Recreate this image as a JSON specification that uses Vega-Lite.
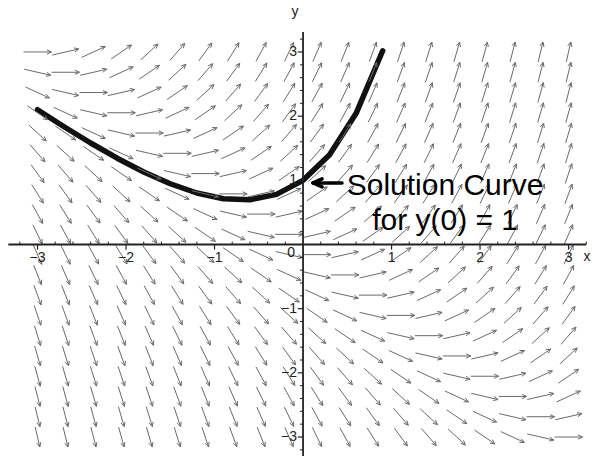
{
  "$schema": "https://vega.github.io/schema/vega-lite/v6.json",
  "width": 595,
  "height": 456,
  "autosize": {"type": "none"},
  "padding": 0,
  "background": "white",
  "config": {"view": {"stroke": null}, "axis": {"disable": true}},
  "datasets": {
    "field": [
      {"x":-3,"y":-3,"s":-6},{"x":-3,"y":-2.684,"s":-5.684},{"x":-3,"y":-2.368,"s":-5.368},{"x":-3,"y":-2.053,"s":-5.053},{"x":-3,"y":-1.737,"s":-4.737},{"x":-3,"y":-1.421,"s":-4.421},{"x":-3,"y":-1.105,"s":-4.105},{"x":-3,"y":-0.789,"s":-3.789},{"x":-3,"y":-0.474,"s":-3.474},{"x":-3,"y":-0.158,"s":-3.158},{"x":-3,"y":0.158,"s":-2.842},{"x":-3,"y":0.474,"s":-2.526},{"x":-3,"y":0.789,"s":-2.211},{"x":-3,"y":1.105,"s":-1.895},{"x":-3,"y":1.421,"s":-1.579},{"x":-3,"y":1.737,"s":-1.263},{"x":-3,"y":2.053,"s":-0.947},{"x":-3,"y":2.368,"s":-0.632},{"x":-3,"y":2.684,"s":-0.316},{"x":-3,"y":3,"s":0},
      {"x":-2.684,"y":-3,"s":-5.684},{"x":-2.684,"y":-2.684,"s":-5.368},{"x":-2.684,"y":-2.368,"s":-5.053},{"x":-2.684,"y":-2.053,"s":-4.737},{"x":-2.684,"y":-1.737,"s":-4.421},{"x":-2.684,"y":-1.421,"s":-4.105},{"x":-2.684,"y":-1.105,"s":-3.789},{"x":-2.684,"y":-0.789,"s":-3.474},{"x":-2.684,"y":-0.474,"s":-3.158},{"x":-2.684,"y":-0.158,"s":-2.842},{"x":-2.684,"y":0.158,"s":-2.526},{"x":-2.684,"y":0.474,"s":-2.211},{"x":-2.684,"y":0.789,"s":-1.895},{"x":-2.684,"y":1.105,"s":-1.579},{"x":-2.684,"y":1.421,"s":-1.263},{"x":-2.684,"y":1.737,"s":-0.947},{"x":-2.684,"y":2.053,"s":-0.632},{"x":-2.684,"y":2.368,"s":-0.316},{"x":-2.684,"y":2.684,"s":0},{"x":-2.684,"y":3,"s":0.316},
      {"x":-2.368,"y":-3,"s":-5.368},{"x":-2.368,"y":-2.684,"s":-5.053},{"x":-2.368,"y":-2.368,"s":-4.737},{"x":-2.368,"y":-2.053,"s":-4.421},{"x":-2.368,"y":-1.737,"s":-4.105},{"x":-2.368,"y":-1.421,"s":-3.789},{"x":-2.368,"y":-1.105,"s":-3.474},{"x":-2.368,"y":-0.789,"s":-3.158},{"x":-2.368,"y":-0.474,"s":-2.842},{"x":-2.368,"y":-0.158,"s":-2.526},{"x":-2.368,"y":0.158,"s":-2.211},{"x":-2.368,"y":0.474,"s":-1.895},{"x":-2.368,"y":0.789,"s":-1.579},{"x":-2.368,"y":1.105,"s":-1.263},{"x":-2.368,"y":1.421,"s":-0.947},{"x":-2.368,"y":1.737,"s":-0.632},{"x":-2.368,"y":2.053,"s":-0.316},{"x":-2.368,"y":2.368,"s":0},{"x":-2.368,"y":2.684,"s":0.316},{"x":-2.368,"y":3,"s":0.632},
      {"x":-2.053,"y":-3,"s":-5.053},{"x":-2.053,"y":-2.684,"s":-4.737},{"x":-2.053,"y":-2.368,"s":-4.421},{"x":-2.053,"y":-2.053,"s":-4.105},{"x":-2.053,"y":-1.737,"s":-3.789},{"x":-2.053,"y":-1.421,"s":-3.474},{"x":-2.053,"y":-1.105,"s":-3.158},{"x":-2.053,"y":-0.789,"s":-2.842},{"x":-2.053,"y":-0.474,"s":-2.526},{"x":-2.053,"y":-0.158,"s":-2.211},{"x":-2.053,"y":0.158,"s":-1.895},{"x":-2.053,"y":0.474,"s":-1.579},{"x":-2.053,"y":0.789,"s":-1.263},{"x":-2.053,"y":1.105,"s":-0.947},{"x":-2.053,"y":1.421,"s":-0.632},{"x":-2.053,"y":1.737,"s":-0.316},{"x":-2.053,"y":2.053,"s":0},{"x":-2.053,"y":2.368,"s":0.316},{"x":-2.053,"y":2.684,"s":0.632},{"x":-2.053,"y":3,"s":0.947},
      {"x":-1.737,"y":-3,"s":-4.737},{"x":-1.737,"y":-2.684,"s":-4.421},{"x":-1.737,"y":-2.368,"s":-4.105},{"x":-1.737,"y":-2.053,"s":-3.789},{"x":-1.737,"y":-1.737,"s":-3.474},{"x":-1.737,"y":-1.421,"s":-3.158},{"x":-1.737,"y":-1.105,"s":-2.842},{"x":-1.737,"y":-0.789,"s":-2.526},{"x":-1.737,"y":-0.474,"s":-2.211},{"x":-1.737,"y":-0.158,"s":-1.895},{"x":-1.737,"y":0.158,"s":-1.579},{"x":-1.737,"y":0.474,"s":-1.263},{"x":-1.737,"y":0.789,"s":-0.947},{"x":-1.737,"y":1.105,"s":-0.632},{"x":-1.737,"y":1.421,"s":-0.316},{"x":-1.737,"y":1.737,"s":0},{"x":-1.737,"y":2.053,"s":0.316},{"x":-1.737,"y":2.368,"s":0.632},{"x":-1.737,"y":2.684,"s":0.947},{"x":-1.737,"y":3,"s":1.263},
      {"x":-1.421,"y":-3,"s":-4.421},{"x":-1.421,"y":-2.684,"s":-4.105},{"x":-1.421,"y":-2.368,"s":-3.789},{"x":-1.421,"y":-2.053,"s":-3.474},{"x":-1.421,"y":-1.737,"s":-3.158},{"x":-1.421,"y":-1.421,"s":-2.842},{"x":-1.421,"y":-1.105,"s":-2.526},{"x":-1.421,"y":-0.789,"s":-2.211},{"x":-1.421,"y":-0.474,"s":-1.895},{"x":-1.421,"y":-0.158,"s":-1.579},{"x":-1.421,"y":0.158,"s":-1.263},{"x":-1.421,"y":0.474,"s":-0.947},{"x":-1.421,"y":0.789,"s":-0.632},{"x":-1.421,"y":1.105,"s":-0.316},{"x":-1.421,"y":1.421,"s":0},{"x":-1.421,"y":1.737,"s":0.316},{"x":-1.421,"y":2.053,"s":0.632},{"x":-1.421,"y":2.368,"s":0.947},{"x":-1.421,"y":2.684,"s":1.263},{"x":-1.421,"y":3,"s":1.579},
      {"x":-1.105,"y":-3,"s":-4.105},{"x":-1.105,"y":-2.684,"s":-3.789},{"x":-1.105,"y":-2.368,"s":-3.474},{"x":-1.105,"y":-2.053,"s":-3.158},{"x":-1.105,"y":-1.737,"s":-2.842},{"x":-1.105,"y":-1.421,"s":-2.526},{"x":-1.105,"y":-1.105,"s":-2.211},{"x":-1.105,"y":-0.789,"s":-1.895},{"x":-1.105,"y":-0.474,"s":-1.579},{"x":-1.105,"y":-0.158,"s":-1.263},{"x":-1.105,"y":0.158,"s":-0.947},{"x":-1.105,"y":0.474,"s":-0.632},{"x":-1.105,"y":0.789,"s":-0.316},{"x":-1.105,"y":1.105,"s":0},{"x":-1.105,"y":1.421,"s":0.316},{"x":-1.105,"y":1.737,"s":0.632},{"x":-1.105,"y":2.053,"s":0.947},{"x":-1.105,"y":2.368,"s":1.263},{"x":-1.105,"y":2.684,"s":1.579},{"x":-1.105,"y":3,"s":1.895},
      {"x":-0.789,"y":-3,"s":-3.789},{"x":-0.789,"y":-2.684,"s":-3.474},{"x":-0.789,"y":-2.368,"s":-3.158},{"x":-0.789,"y":-2.053,"s":-2.842},{"x":-0.789,"y":-1.737,"s":-2.526},{"x":-0.789,"y":-1.421,"s":-2.211},{"x":-0.789,"y":-1.105,"s":-1.895},{"x":-0.789,"y":-0.789,"s":-1.579},{"x":-0.789,"y":-0.474,"s":-1.263},{"x":-0.789,"y":-0.158,"s":-0.947},{"x":-0.789,"y":0.158,"s":-0.632},{"x":-0.789,"y":0.474,"s":-0.316},{"x":-0.789,"y":0.789,"s":0},{"x":-0.789,"y":1.105,"s":0.316},{"x":-0.789,"y":1.421,"s":0.632},{"x":-0.789,"y":1.737,"s":0.947},{"x":-0.789,"y":2.053,"s":1.263},{"x":-0.789,"y":2.368,"s":1.579},{"x":-0.789,"y":2.684,"s":1.895},{"x":-0.789,"y":3,"s":2.211},
      {"x":-0.474,"y":-3,"s":-3.474},{"x":-0.474,"y":-2.684,"s":-3.158},{"x":-0.474,"y":-2.368,"s":-2.842},{"x":-0.474,"y":-2.053,"s":-2.526},{"x":-0.474,"y":-1.737,"s":-2.211},{"x":-0.474,"y":-1.421,"s":-1.895},{"x":-0.474,"y":-1.105,"s":-1.579},{"x":-0.474,"y":-0.789,"s":-1.263},{"x":-0.474,"y":-0.474,"s":-0.947},{"x":-0.474,"y":-0.158,"s":-0.632},{"x":-0.474,"y":0.158,"s":-0.316},{"x":-0.474,"y":0.474,"s":0},{"x":-0.474,"y":0.789,"s":0.316},{"x":-0.474,"y":1.105,"s":0.632},{"x":-0.474,"y":1.421,"s":0.947},{"x":-0.474,"y":1.737,"s":1.263},{"x":-0.474,"y":2.053,"s":1.579},{"x":-0.474,"y":2.368,"s":1.895},{"x":-0.474,"y":2.684,"s":2.211},{"x":-0.474,"y":3,"s":2.526},
      {"x":-0.158,"y":-3,"s":-3.158},{"x":-0.158,"y":-2.684,"s":-2.842},{"x":-0.158,"y":-2.368,"s":-2.526},{"x":-0.158,"y":-2.053,"s":-2.211},{"x":-0.158,"y":-1.737,"s":-1.895},{"x":-0.158,"y":-1.421,"s":-1.579},{"x":-0.158,"y":-1.105,"s":-1.263},{"x":-0.158,"y":-0.789,"s":-0.947},{"x":-0.158,"y":-0.474,"s":-0.632},{"x":-0.158,"y":-0.158,"s":-0.316},{"x":-0.158,"y":0.158,"s":0},{"x":-0.158,"y":0.474,"s":0.316},{"x":-0.158,"y":0.789,"s":0.632},{"x":-0.158,"y":1.105,"s":0.947},{"x":-0.158,"y":1.421,"s":1.263},{"x":-0.158,"y":1.737,"s":1.579},{"x":-0.158,"y":2.053,"s":1.895},{"x":-0.158,"y":2.368,"s":2.211},{"x":-0.158,"y":2.684,"s":2.526},{"x":-0.158,"y":3,"s":2.842},
      {"x":0.158,"y":-3,"s":-2.842},{"x":0.158,"y":-2.684,"s":-2.526},{"x":0.158,"y":-2.368,"s":-2.211},{"x":0.158,"y":-2.053,"s":-1.895},{"x":0.158,"y":-1.737,"s":-1.579},{"x":0.158,"y":-1.421,"s":-1.263},{"x":0.158,"y":-1.105,"s":-0.947},{"x":0.158,"y":-0.789,"s":-0.632},{"x":0.158,"y":-0.474,"s":-0.316},{"x":0.158,"y":-0.158,"s":0},{"x":0.158,"y":0.158,"s":0.316},{"x":0.158,"y":0.474,"s":0.632},{"x":0.158,"y":0.789,"s":0.947},{"x":0.158,"y":1.105,"s":1.263},{"x":0.158,"y":1.421,"s":1.579},{"x":0.158,"y":1.737,"s":1.895},{"x":0.158,"y":2.053,"s":2.211},{"x":0.158,"y":2.368,"s":2.526},{"x":0.158,"y":2.684,"s":2.842},{"x":0.158,"y":3,"s":3.158},
      {"x":0.474,"y":-3,"s":-2.526},{"x":0.474,"y":-2.684,"s":-2.211},{"x":0.474,"y":-2.368,"s":-1.895},{"x":0.474,"y":-2.053,"s":-1.579},{"x":0.474,"y":-1.737,"s":-1.263},{"x":0.474,"y":-1.421,"s":-0.947},{"x":0.474,"y":-1.105,"s":-0.632},{"x":0.474,"y":-0.789,"s":-0.316},{"x":0.474,"y":-0.474,"s":0},{"x":0.474,"y":-0.158,"s":0.316},{"x":0.474,"y":0.158,"s":0.632},{"x":0.474,"y":0.474,"s":0.947},{"x":0.474,"y":0.789,"s":1.263},{"x":0.474,"y":1.105,"s":1.579},{"x":0.474,"y":1.421,"s":1.895},{"x":0.474,"y":1.737,"s":2.211},{"x":0.474,"y":2.053,"s":2.526},{"x":0.474,"y":2.368,"s":2.842},{"x":0.474,"y":2.684,"s":3.158},{"x":0.474,"y":3,"s":3.474},
      {"x":0.789,"y":-3,"s":-2.211},{"x":0.789,"y":-2.684,"s":-1.895},{"x":0.789,"y":-2.368,"s":-1.579},{"x":0.789,"y":-2.053,"s":-1.263},{"x":0.789,"y":-1.737,"s":-0.947},{"x":0.789,"y":-1.421,"s":-0.632},{"x":0.789,"y":-1.105,"s":-0.316},{"x":0.789,"y":-0.789,"s":0},{"x":0.789,"y":-0.474,"s":0.316},{"x":0.789,"y":-0.158,"s":0.632},{"x":0.789,"y":0.158,"s":0.947},{"x":0.789,"y":0.474,"s":1.263},{"x":0.789,"y":0.789,"s":1.579},{"x":0.789,"y":1.105,"s":1.895},{"x":0.789,"y":1.421,"s":2.211},{"x":0.789,"y":1.737,"s":2.526},{"x":0.789,"y":2.053,"s":2.842},{"x":0.789,"y":2.368,"s":3.158},{"x":0.789,"y":2.684,"s":3.474},{"x":0.789,"y":3,"s":3.789},
      {"x":1.105,"y":-3,"s":-1.895},{"x":1.105,"y":-2.684,"s":-1.579},{"x":1.105,"y":-2.368,"s":-1.263},{"x":1.105,"y":-2.053,"s":-0.947},{"x":1.105,"y":-1.737,"s":-0.632},{"x":1.105,"y":-1.421,"s":-0.316},{"x":1.105,"y":-1.105,"s":0},{"x":1.105,"y":-0.789,"s":0.316},{"x":1.105,"y":-0.474,"s":0.632},{"x":1.105,"y":-0.158,"s":0.947},{"x":1.105,"y":0.158,"s":1.263},{"x":1.105,"y":0.474,"s":1.579},{"x":1.105,"y":0.789,"s":1.895},{"x":1.105,"y":1.105,"s":2.211},{"x":1.105,"y":1.421,"s":2.526},{"x":1.105,"y":1.737,"s":2.842},{"x":1.105,"y":2.053,"s":3.158},{"x":1.105,"y":2.368,"s":3.474},{"x":1.105,"y":2.684,"s":3.789},{"x":1.105,"y":3,"s":4.105},
      {"x":1.421,"y":-3,"s":-1.579},{"x":1.421,"y":-2.684,"s":-1.263},{"x":1.421,"y":-2.368,"s":-0.947},{"x":1.421,"y":-2.053,"s":-0.632},{"x":1.421,"y":-1.737,"s":-0.316},{"x":1.421,"y":-1.421,"s":0},{"x":1.421,"y":-1.105,"s":0.316},{"x":1.421,"y":-0.789,"s":0.632},{"x":1.421,"y":-0.474,"s":0.947},{"x":1.421,"y":-0.158,"s":1.263},{"x":1.421,"y":0.158,"s":1.579},{"x":1.421,"y":0.474,"s":1.895},{"x":1.421,"y":0.789,"s":2.211},{"x":1.421,"y":1.105,"s":2.526},{"x":1.421,"y":1.421,"s":2.842},{"x":1.421,"y":1.737,"s":3.158},{"x":1.421,"y":2.053,"s":3.474},{"x":1.421,"y":2.368,"s":3.789},{"x":1.421,"y":2.684,"s":4.105},{"x":1.421,"y":3,"s":4.421},
      {"x":1.737,"y":-3,"s":-1.263},{"x":1.737,"y":-2.684,"s":-0.947},{"x":1.737,"y":-2.368,"s":-0.632},{"x":1.737,"y":-2.053,"s":-0.316},{"x":1.737,"y":-1.737,"s":0},{"x":1.737,"y":-1.421,"s":0.316},{"x":1.737,"y":-1.105,"s":0.632},{"x":1.737,"y":-0.789,"s":0.947},{"x":1.737,"y":-0.474,"s":1.263},{"x":1.737,"y":-0.158,"s":1.579},{"x":1.737,"y":0.158,"s":1.895},{"x":1.737,"y":0.474,"s":2.211},{"x":1.737,"y":0.789,"s":2.526},{"x":1.737,"y":1.105,"s":2.842},{"x":1.737,"y":1.421,"s":3.158},{"x":1.737,"y":1.737,"s":3.474},{"x":1.737,"y":2.053,"s":3.789},{"x":1.737,"y":2.368,"s":4.105},{"x":1.737,"y":2.684,"s":4.421},{"x":1.737,"y":3,"s":4.737},
      {"x":2.053,"y":-3,"s":-0.947},{"x":2.053,"y":-2.684,"s":-0.632},{"x":2.053,"y":-2.368,"s":-0.316},{"x":2.053,"y":-2.053,"s":0},{"x":2.053,"y":-1.737,"s":0.316},{"x":2.053,"y":-1.421,"s":0.632},{"x":2.053,"y":-1.105,"s":0.947},{"x":2.053,"y":-0.789,"s":1.263},{"x":2.053,"y":-0.474,"s":1.579},{"x":2.053,"y":-0.158,"s":1.895},{"x":2.053,"y":0.158,"s":2.211},{"x":2.053,"y":0.474,"s":2.526},{"x":2.053,"y":0.789,"s":2.842},{"x":2.053,"y":1.105,"s":3.158},{"x":2.053,"y":1.421,"s":3.474},{"x":2.053,"y":1.737,"s":3.789},{"x":2.053,"y":2.053,"s":4.105},{"x":2.053,"y":2.368,"s":4.421},{"x":2.053,"y":2.684,"s":4.737},{"x":2.053,"y":3,"s":5.053},
      {"x":2.368,"y":-3,"s":-0.632},{"x":2.368,"y":-2.684,"s":-0.316},{"x":2.368,"y":-2.368,"s":0},{"x":2.368,"y":-2.053,"s":0.316},{"x":2.368,"y":-1.737,"s":0.632},{"x":2.368,"y":-1.421,"s":0.947},{"x":2.368,"y":-1.105,"s":1.263},{"x":2.368,"y":-0.789,"s":1.579},{"x":2.368,"y":-0.474,"s":1.895},{"x":2.368,"y":-0.158,"s":2.211},{"x":2.368,"y":0.158,"s":2.526},{"x":2.368,"y":0.474,"s":2.842},{"x":2.368,"y":0.789,"s":3.158},{"x":2.368,"y":1.105,"s":3.474},{"x":2.368,"y":1.421,"s":3.789},{"x":2.368,"y":1.737,"s":4.105},{"x":2.368,"y":2.053,"s":4.421},{"x":2.368,"y":2.368,"s":4.737},{"x":2.368,"y":2.684,"s":5.053},{"x":2.368,"y":3,"s":5.368},
      {"x":2.684,"y":-3,"s":-0.316},{"x":2.684,"y":-2.684,"s":0},{"x":2.684,"y":-2.368,"s":0.316},{"x":2.684,"y":-2.053,"s":0.632},{"x":2.684,"y":-1.737,"s":0.947},{"x":2.684,"y":-1.421,"s":1.263},{"x":2.684,"y":-1.105,"s":1.579},{"x":2.684,"y":-0.789,"s":1.895},{"x":2.684,"y":-0.474,"s":2.211},{"x":2.684,"y":-0.158,"s":2.526},{"x":2.684,"y":0.158,"s":2.842},{"x":2.684,"y":0.474,"s":3.158},{"x":2.684,"y":0.789,"s":3.474},{"x":2.684,"y":1.105,"s":3.789},{"x":2.684,"y":1.421,"s":4.105},{"x":2.684,"y":1.737,"s":4.421},{"x":2.684,"y":2.053,"s":4.737},{"x":2.684,"y":2.368,"s":5.053},{"x":2.684,"y":2.684,"s":5.368},{"x":2.684,"y":3,"s":5.684},
      {"x":3,"y":-3,"s":0},{"x":3,"y":-2.684,"s":0.316},{"x":3,"y":-2.368,"s":0.632},{"x":3,"y":-2.053,"s":0.947},{"x":3,"y":-1.737,"s":1.263},{"x":3,"y":-1.421,"s":1.579},{"x":3,"y":-1.105,"s":1.895},{"x":3,"y":-0.789,"s":2.211},{"x":3,"y":-0.474,"s":2.526},{"x":3,"y":-0.158,"s":2.842},{"x":3,"y":0.158,"s":3.158},{"x":3,"y":0.474,"s":3.474},{"x":3,"y":0.789,"s":3.789},{"x":3,"y":1.105,"s":4.105},{"x":3,"y":1.421,"s":4.421},{"x":3,"y":1.737,"s":4.737},{"x":3,"y":2.053,"s":5.053},{"x":3,"y":2.368,"s":5.368},{"x":3,"y":2.684,"s":5.684},{"x":3,"y":3,"s":6}
    ],
    "curve": [
      {"x":-3,"y":2.0996},{"x":-2.7,"y":1.8344},{"x":-2.4,"y":1.5814},{"x":-2.1,"y":1.3449},{"x":-1.8,"y":1.1306},{"x":-1.5,"y":0.9463},{"x":-1.2,"y":0.8024},{"x":-0.9,"y":0.7131},{"x":-0.6,"y":0.6976},{"x":-0.3,"y":0.7816},{"x":0,"y":1},{"x":0.3,"y":1.3997},{"x":0.6,"y":2.0442},{"x":0.9,"y":3.0192}
    ],
    "major": [
      {"v":-3,"t":"−3"},{"v":-2,"t":"−2"},{"v":-1,"t":"−1"},{"v":1,"t":"1"},{"v":2,"t":"2"},{"v":3,"t":"3"}
    ],
    "minor": [
      {"v":-3.2},{"v":-2.8},{"v":-2.6},{"v":-2.4},{"v":-2.2},{"v":-1.8},{"v":-1.6},{"v":-1.4},{"v":-1.2},{"v":-0.8},{"v":-0.6},{"v":-0.4},{"v":-0.2},{"v":0.2},{"v":0.4},{"v":0.6},{"v":0.8},{"v":1.2},{"v":1.4},{"v":1.6},{"v":1.8},{"v":2.2},{"v":2.4},{"v":2.6},{"v":2.8},{"v":3.2}
    ],
    "note": [
      {"x":1.605,"y":0.771,"t":"Solution Curve"},
      {"x":1.605,"y":0.226,"t":"for y(0) = 1"}
    ],
    "pointer": [
      {"x":0.44,"y":0.96,"x2":0.113,"y2":0.96},
      {"x":0.113,"y":0.96,"x2":0.215,"y2":1.022},
      {"x":0.113,"y":0.96,"x2":0.215,"y2":0.898}
    ]
  },
  "layer": [
    {
      "data": {"name": "curve"},
      "mark": {"type": "line", "color": "#111111", "strokeWidth": 5.5, "strokeJoin": "round", "strokeCap": "round"},
      "encoding": {
        "x": {"field": "x", "type": "quantitative", "scale": {"domain": [-3.424, 3.299], "nice": false, "zero": false}, "axis": null},
        "y": {"field": "y", "type": "quantitative", "scale": {"domain": [-3.296, 3.81], "nice": false, "zero": false}, "axis": null}
      }
    },
    {
      "data": {"name": "field"},
      "transform": [
        {"calculate": "sqrt(1 + datum.s * datum.s)", "as": "n"},
        {"calculate": "0.157895 / datum.n", "as": "dx"},
        {"calculate": "0.157895 * datum.s / datum.n", "as": "dy"},
        {"calculate": "datum.x - datum.dx", "as": "x0"},
        {"calculate": "datum.x + datum.dx", "as": "x1"},
        {"calculate": "datum.y - datum.dy", "as": "y0"},
        {"calculate": "datum.y + datum.dy", "as": "y1"},
        {"calculate": "sqrt(pow(datum.dx * 88.5, 2) + pow(datum.dy * 64.17, 2))", "as": "m"},
        {"calculate": "datum.dx * 88.5 / datum.m", "as": "ux"},
        {"calculate": "datum.dy * 64.17 / datum.m", "as": "uy"},
        {"calculate": "datum.x1 - (4.53 * datum.ux - 2.11 * datum.uy) / 88.5", "as": "ax"},
        {"calculate": "datum.y1 - (2.11 * datum.ux + 4.53 * datum.uy) / 64.17", "as": "ay"},
        {"calculate": "datum.x1 - (4.53 * datum.ux + 2.11 * datum.uy) / 88.5", "as": "bx"},
        {"calculate": "datum.y1 - (4.53 * datum.uy - 2.11 * datum.ux) / 64.17", "as": "by"}
      ],
      "layer": [
        {
          "mark": {"type": "rule", "color": "#6a6a6a", "strokeWidth": 1},
          "encoding": {
            "x": {"field": "x0", "type": "quantitative", "scale": {"domain": [-3.424, 3.299], "nice": false, "zero": false}, "axis": null},
            "y": {"field": "y0", "type": "quantitative", "scale": {"domain": [-3.296, 3.81], "nice": false, "zero": false}, "axis": null},
            "x2": {"field": "x1"},
            "y2": {"field": "y1"}
          }
        },
        {
          "mark": {"type": "rule", "color": "#6a6a6a", "strokeWidth": 1},
          "encoding": {
            "x": {"field": "x1", "type": "quantitative", "scale": {"domain": [-3.424, 3.299], "nice": false, "zero": false}, "axis": null},
            "y": {"field": "y1", "type": "quantitative", "scale": {"domain": [-3.296, 3.81], "nice": false, "zero": false}, "axis": null},
            "x2": {"field": "ax"},
            "y2": {"field": "ay"}
          }
        },
        {
          "mark": {"type": "rule", "color": "#6a6a6a", "strokeWidth": 1},
          "encoding": {
            "x": {"field": "x1", "type": "quantitative", "scale": {"domain": [-3.424, 3.299], "nice": false, "zero": false}, "axis": null},
            "y": {"field": "y1", "type": "quantitative", "scale": {"domain": [-3.296, 3.81], "nice": false, "zero": false}, "axis": null},
            "x2": {"field": "bx"},
            "y2": {"field": "by"}
          }
        }
      ]
    },
    {
      "data": {"values": [{}]},
      "mark": {"type": "rule", "color": "#222222", "strokeWidth": 1.8},
      "encoding": {
        "x": {"datum": -3.33, "type": "quantitative", "scale": {"domain": [-3.424, 3.299], "nice": false, "zero": false}, "axis": null},
        "x2": {"datum": 3.2},
        "y": {"datum": 0, "type": "quantitative", "scale": {"domain": [-3.296, 3.81], "nice": false, "zero": false}, "axis": null}
      }
    },
    {
      "data": {"values": [{}]},
      "mark": {"type": "rule", "color": "#222222", "strokeWidth": 1.8},
      "encoding": {
        "x": {"datum": 0, "type": "quantitative", "scale": {"domain": [-3.424, 3.299], "nice": false, "zero": false}, "axis": null},
        "y": {"datum": -3.3, "type": "quantitative", "scale": {"domain": [-3.296, 3.81], "nice": false, "zero": false}, "axis": null},
        "y2": {"datum": 3.31}
      }
    },
    {
      "data": {"name": "major"},
      "mark": {"type": "rule", "color": "#222222", "strokeWidth": 1.2},
      "encoding": {
        "x": {"field": "v", "type": "quantitative", "scale": {"domain": [-3.424, 3.299], "nice": false, "zero": false}, "axis": null},
        "y": {"datum": 0, "type": "quantitative", "scale": {"domain": [-3.296, 3.81], "nice": false, "zero": false}, "axis": null},
        "y2": {"datum": -0.08}
      }
    },
    {
      "data": {"name": "minor"},
      "mark": {"type": "rule", "color": "#222222", "strokeWidth": 1},
      "encoding": {
        "x": {"field": "v", "type": "quantitative", "scale": {"domain": [-3.424, 3.299], "nice": false, "zero": false}, "axis": null},
        "y": {"datum": 0, "type": "quantitative", "scale": {"domain": [-3.296, 3.81], "nice": false, "zero": false}, "axis": null},
        "y2": {"datum": 0.045}
      }
    },
    {
      "data": {"name": "major"},
      "mark": {"type": "rule", "color": "#222222", "strokeWidth": 1.2},
      "encoding": {
        "y": {"field": "v", "type": "quantitative", "scale": {"domain": [-3.296, 3.81], "nice": false, "zero": false}, "axis": null},
        "x": {"datum": 0, "type": "quantitative", "scale": {"domain": [-3.424, 3.299], "nice": false, "zero": false}, "axis": null},
        "x2": {"datum": -0.06}
      }
    },
    {
      "data": {"name": "minor"},
      "mark": {"type": "rule", "color": "#222222", "strokeWidth": 1},
      "encoding": {
        "y": {"field": "v", "type": "quantitative", "scale": {"domain": [-3.296, 3.81], "nice": false, "zero": false}, "axis": null},
        "x": {"datum": 0, "type": "quantitative", "scale": {"domain": [-3.424, 3.299], "nice": false, "zero": false}, "axis": null},
        "x2": {"datum": -0.034}
      }
    },
    {
      "data": {"name": "major"},
      "mark": {"type": "text", "font": "Liberation Sans", "fontSize": 14, "color": "#222222", "align": "center", "baseline": "top", "dy": 7},
      "encoding": {
        "x": {"field": "v", "type": "quantitative", "scale": {"domain": [-3.424, 3.299], "nice": false, "zero": false}, "axis": null},
        "y": {"datum": 0, "type": "quantitative", "scale": {"domain": [-3.296, 3.81], "nice": false, "zero": false}, "axis": null},
        "text": {"field": "t"}
      }
    },
    {
      "data": {"name": "major"},
      "mark": {"type": "text", "font": "Liberation Sans", "fontSize": 14, "color": "#222222", "align": "right", "baseline": "middle", "dx": -6},
      "encoding": {
        "y": {"field": "v", "type": "quantitative", "scale": {"domain": [-3.296, 3.81], "nice": false, "zero": false}, "axis": null},
        "x": {"datum": 0, "type": "quantitative", "scale": {"domain": [-3.424, 3.299], "nice": false, "zero": false}, "axis": null},
        "text": {"field": "t"}
      }
    },
    {
      "data": {"values": [{"x": 0, "y": 0, "t": "0", "a": "right", "b": "top"}, {"x": 3.209, "y": -0.195, "t": "x", "a": "center", "b": "middle"}, {"x": -0.09, "y": 3.623, "t": "y", "a": "center", "b": "middle"}]},
      "mark": {"type": "text", "font": "Liberation Sans", "fontSize": 14, "color": "#222222", "align": {"expr": "datum.a"}, "baseline": {"expr": "datum.b"}, "dx": {"expr": "datum.t == '0' ? -8 : 0"}, "dy": {"expr": "datum.t == '0' ? 2 : 0"}},
      "encoding": {
        "x": {"field": "x", "type": "quantitative", "scale": {"domain": [-3.424, 3.299], "nice": false, "zero": false}, "axis": null},
        "y": {"field": "y", "type": "quantitative", "scale": {"domain": [-3.296, 3.81], "nice": false, "zero": false}, "axis": null},
        "text": {"field": "t"}
      }
    },
    {
      "data": {"name": "pointer"},
      "mark": {"type": "rule", "color": "#000000", "strokeWidth": 3.5, "strokeCap": "round"},
      "encoding": {
        "x": {"field": "x", "type": "quantitative", "scale": {"domain": [-3.424, 3.299], "nice": false, "zero": false}, "axis": null},
        "y": {"field": "y", "type": "quantitative", "scale": {"domain": [-3.296, 3.81], "nice": false, "zero": false}, "axis": null},
        "x2": {"field": "x2"},
        "y2": {"field": "y2"}
      }
    },
    {
      "data": {"name": "note"},
      "mark": {"type": "text", "font": "Liberation Sans", "fontSize": 30, "color": "#000000", "align": "center", "baseline": "alphabetic"},
      "encoding": {
        "x": {"field": "x", "type": "quantitative", "scale": {"domain": [-3.424, 3.299], "nice": false, "zero": false}, "axis": null},
        "y": {"field": "y", "type": "quantitative", "scale": {"domain": [-3.296, 3.81], "nice": false, "zero": false}, "axis": null},
        "text": {"field": "t"}
      }
    }
  ]
}
